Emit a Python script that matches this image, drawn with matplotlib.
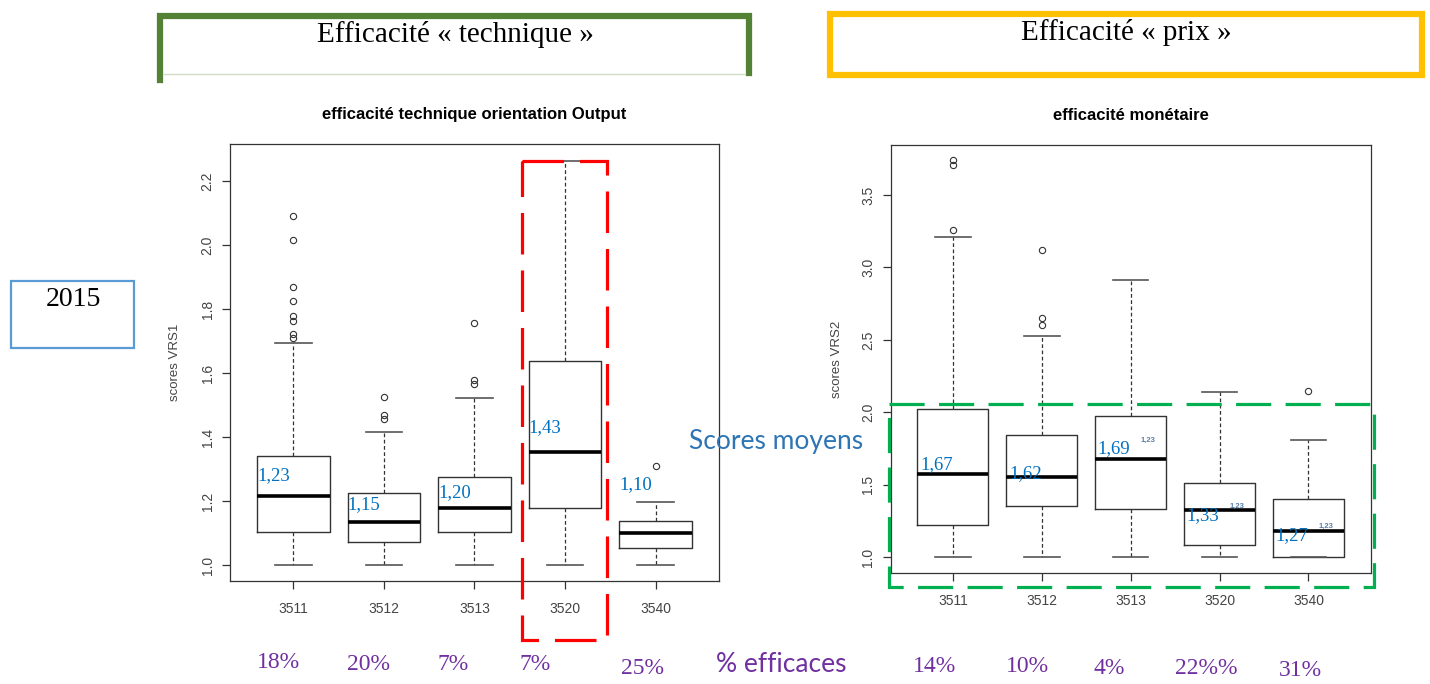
import matplotlib
matplotlib.use('Agg')
import matplotlib.pyplot as plt
from matplotlib.patches import Rectangle

W, H = 1430, 684  # taille de la figure en pixels

secteurs = ['3511', '3512', '3513', '3520', '3540']

# efficacité technique orientation output (scores VRS1)
vrs1_q1 = [1.102, 1.072, 1.102, 1.177, 1.053]
vrs1_med = [1.216, 1.133, 1.177, 1.354, 1.100]
vrs1_q3 = [1.342, 1.224, 1.274, 1.638, 1.137]
vrs1_lo = [1.0, 1.0, 1.0, 1.0, 1.0]
vrs1_hi = [1.693, 1.415, 1.522, 2.263, 1.197]
vrs1_out = [[2.09, 2.017, 1.87, 1.824, 1.777, 1.762, 1.723, 1.71],
            [1.526, 1.468, 1.455],
            [1.757, 1.578, 1.565],
            [],
            [1.31]]
vrs1_moy = ['1,23', '1,15', '1,20', '1,43', '1,10']
vrs1_pct = ['18%', '20%', '7%', '7%', '25%']

# efficacité monétaire (scores VRS2)
vrs2_q1 = [1.223, 1.354, 1.334, 1.085, 1.0]
vrs2_med = [1.572, 1.550, 1.676, 1.322, 1.180]
vrs2_q3 = [2.020, 1.846, 1.973, 1.513, 1.398]
vrs2_lo = [1.0, 1.0, 1.0, 1.0, 1.0]
vrs2_hi = [3.210, 2.524, 2.913, 2.143, 1.810]
vrs2_out = [[3.74, 3.71, 3.26],
            [3.122, 2.65, 2.60],
            [],
            [],
            [2.15]]
vrs2_moy = ['1,67', '1,62', '1,69', '1,33', '1,27']
vrs2_pct = ['14%', '10%', '4%', '22%%', '31%']

# mise en page (pixels)
ax1_box = (230, 144, 719, 581)
ax2_box = (890.7, 145, 1370.7, 573.3)
lab1_dy = [0.065, 0.057, 0.05, 0.077, 0.15]
lab2_dy = [0.067, 0.027, 0.076, -0.034, -0.03]
pct1_x = [278, 368, 453, 535, 643]
pct1_y = [662, 664, 664, 664, 668]
pct2_x = [935, 1027, 1109, 1206, 1300]
pct2_y = [667, 667, 669, 668, 671]

BLEU = '#0070c0'
VIOLET = '#7030a0'
GRIS = '#333333'


def place(box):
    x0, y0, x1, y1 = box
    return [x0 / W, 1 - y1 / H, (x1 - x0) / W, (y1 - y0) / H]


def boites(ax, q1, med, q3, lo, hi, out, ylim, yticks, titre, ylab):
    stats = []
    for i in range(len(secteurs)):
        stats.append(dict(q1=q1[i], med=med[i], q3=q3[i], whislo=lo[i],
                          whishi=hi[i], fliers=out[i], label=secteurs[i]))
    ax.bxp(stats, positions=range(1, 6), widths=0.8,
           boxprops=dict(color=GRIS, lw=1.0),
           medianprops=dict(color='black', lw=2.6, solid_capstyle='butt'),
           whiskerprops=dict(color=GRIS, lw=0.9, linestyle=(0, (3, 2))),
           capprops=dict(color='#555555', lw=1.2),
           flierprops=dict(marker='o', mfc='none', mec=GRIS, ms=4.5, mew=0.8))
    ax.set_xlim(0.3, 5.7)
    ax.set_ylim(*ylim)
    ax.set_yticks(yticks)
    ax.set_yticklabels(['%.1f' % v for v in yticks])
    for s in ax.spines.values():
        s.set_color(GRIS)
        s.set_linewidth(0.9)
    ax.tick_params(colors=GRIS, labelcolor='#444444', length=6, width=0.9,
                   labelsize=10)
    ax.tick_params(axis='x', pad=9)
    ax.tick_params(axis='y', labelrotation=90, pad=5)
    for t in ax.get_yticklabels():
        t.set_va('center')
    ax.set_title(titre, fontsize=12, fontweight='bold', pad=18)
    ax.set_ylabel(ylab, fontsize=9.5, color='#444444')
    ax.yaxis.set_label_coords(-0.10, 0.5)


plt.rcParams['font.family'] = ['Liberation Sans', 'DejaVu Sans']

fig = plt.figure(figsize=(W / 100, H / 100), dpi=100)

ax1 = fig.add_axes(place(ax1_box))
boites(ax1, vrs1_q1, vrs1_med, vrs1_q3, vrs1_lo, vrs1_hi, vrs1_out,
       (0.95, 2.316), [1.0, 1.2, 1.4, 1.6, 1.8, 2.0, 2.2],
       'efficacité technique orientation Output', 'scores VRS1')
for i, m in enumerate(vrs1_moy):
    ax1.text(i + 1 - 0.4, vrs1_med[i] + lab1_dy[i], m, color=BLEU,
             fontsize=13.5, family='Liberation Serif', ha='left', va='center')

ax2 = fig.add_axes(place(ax2_box))
boites(ax2, vrs2_q1, vrs2_med, vrs2_q3, vrs2_lo, vrs2_hi, vrs2_out,
       (0.888, 3.846), [1.0, 1.5, 2.0, 2.5, 3.0, 3.5],
       'efficacité monétaire', 'scores VRS2')
for i, m in enumerate(vrs2_moy):
    ax2.text(i + 1 - 0.37, vrs2_med[i] + lab2_dy[i], m, color=BLEU,
             fontsize=13.5, family='Liberation Serif', ha='left', va='center')
for i in [2, 3, 4]:
    ax2.text(i + 1.2, vrs2_med[i] + [0.13, 0.03, 0.034][i - 2], '1,23',
             color='#5a7fa8', fontsize=5.5, fontweight='bold',
             ha='center', va='center')

# calque de la diapositive, en pixels
ov = fig.add_axes([0, 0, 1, 1], zorder=10)
ov.set_xlim(0, W)
ov.set_ylim(H, 0)
ov.axis('off')

# cadres d'en-tête
ov.plot([160, 160, 748.5, 748.5], [80, 16, 16, 73], color='#538135', lw=4.5,
        solid_joinstyle='miter')
ov.plot([163, 745], [74, 74], color='#cfdcc6', lw=1)
ov.text(455, 35, 'Efficacité « technique »', family='Liberation Serif',
        fontsize=21, ha='center', va='center')
ov.add_patch(Rectangle((830, 14), 592, 61, fill=False, ec='#ffc000', lw=4.5))
ov.text(1126, 33, 'Efficacité « prix »', family='Liberation Serif',
        fontsize=21, ha='center', va='center')

# année
ov.add_patch(Rectangle((11, 281), 123, 67, fill=False, ec='#5b9bd5', lw=1.6))
ov.text(73, 299, '2015', family='Liberation Serif', fontsize=20,
        ha='center', va='center')

# encadrés en pointillés
ov.add_patch(Rectangle((521.7, 160.7), 85, 479.3, fill=False, ec='#ff0000',
                       lw=2.3, ls=(0, (13, 5))))
ov.add_patch(Rectangle((889.3, 404.3), 485, 183, fill=False, ec='#00b050',
                       lw=2.3, ls=(0, (11, 4.5))))

ov.text(776, 442, 'Scores moyens', family='Lato', fontsize=19, color='#2e75b6',
        ha='center', va='center')
ov.text(781, 665, '% efficaces', family='Lato', fontsize=19, color=VIOLET,
        ha='center', va='center')

for x, y, p in zip(pct1_x, pct1_y, vrs1_pct):
    ov.text(x, y, p, family='Liberation Serif', fontsize=17, color=VIOLET,
            ha='center', va='center')
for x, y, p in zip(pct2_x, pct2_y, vrs2_pct):
    ov.text(x, y, p, family='Liberation Serif', fontsize=17, color=VIOLET,
            ha='center', va='center')

fig.savefig('out.png', dpi=100)
